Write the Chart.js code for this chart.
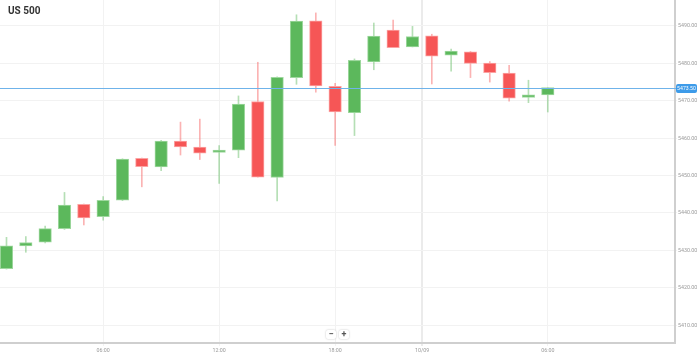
<!DOCTYPE html>
<html>
<head>
<meta charset="utf-8">
<script src="https://cdn.jsdelivr.net/npm/chart.js@4"></script>
<style>
  html, body { margin: 0; padding: 0; background: #fff; }
  #wrap { position: relative; width: 699px; height: 361px; overflow: hidden; }
  #title { position: absolute; left: 8px; top: 5px; font: bold 10px Roboto, sans-serif; color: #333; }
  .zbtn { position: absolute; top: 330px; width: 10px; height: 9px; background: #fff; border-radius: 2px;
          box-shadow: 0 0 2px rgba(0,0,0,0.25); font: bold 9px/9px Roboto, sans-serif; color: #555; text-align: center; }
</style>
</head>
<body>
<div id="wrap">
  <canvas id="chart" width="699" height="361"></canvas>
  <div id="title">US 500</div>
  <div class="zbtn" style="left:326px">−</div>
  <div class="zbtn" style="left:339px">+</div>
</div>
<script>
// hourly candles, 23:00 is the market break
const hours = ['01:00','02:00','03:00','04:00','05:00','06:00','07:00','08:00','09:00','10:00','11:00',
  '12:00','13:00','14:00','15:00','16:00','17:00','18:00','19:00','20:00','21:00','22:00',
  '00:00','01:00','02:00','03:00','04:00','05:00','06:00'];
const dayLabel = '10/09';
const labeledHours = ['06:00', '12:00', '18:00'];

const open  = [5425.1, 5431.2, 5432.2, 5435.8, 5442.3, 5439.0, 5443.4, 5454.6, 5452.3, 5459.2, 5457.6,
  5456.2, 5456.8, 5469.8, 5449.5, 5476.2, 5491.4, 5473.9, 5466.8, 5480.4, 5488.9, 5484.4,
  5487.4, 5482.2, 5483.1, 5480.1, 5477.4, 5470.9, 5471.6];
const high  = [5433.5, 5433.7, 5436.5, 5445.5, 5442.4, 5444.4, 5454.5, 5454.7, 5459.4, 5464.3, 5465.1,
  5458.0, 5471.3, 5480.3, 5476.4, 5493.0, 5493.5, 5474.7, 5481.2, 5490.8, 5491.6, 5489.9,
  5487.8, 5483.8, 5483.2, 5480.5, 5479.5, 5475.5, 5473.5];
const low   = [5425.0, 5429.5, 5432.0, 5435.6, 5436.8, 5438.1, 5443.3, 5447.0, 5451.3, 5455.5, 5454.3,
  5447.9, 5454.8, 5449.6, 5443.2, 5474.4, 5472.3, 5458.1, 5460.7, 5478.3, 5484.2, 5484.4,
  5474.5, 5477.9, 5476.2, 5475.0, 5469.9, 5469.5, 5467.0];
const close = [5431.2, 5432.1, 5435.8, 5442.1, 5438.7, 5443.4, 5454.4, 5452.4, 5459.2, 5457.7, 5456.0,
  5456.8, 5469.1, 5449.6, 5476.3, 5491.3, 5474.0, 5467.0, 5480.8, 5487.3, 5484.2, 5487.2,
  5481.9, 5483.3, 5480.0, 5477.5, 5470.7, 5471.6, 5473.5];

const priceTicks = [5410, 5420, 5430, 5440, 5450, 5460, 5470, 5480, 5490];

const UP = '#5cb85c', UP_EDGE = '#9fd89f', UP_WICK = 'rgba(92,184,92,0.45)';
const DN = '#f65656', DN_EDGE = '#fba3a3', DN_WICK = 'rgba(246,86,86,0.45)';

const isUp = close.map((c, i) => c >= open[i]);

// time axis ticks derived from the hour list
const timeTicks = [];
hours.forEach((h, i) => {
  if (h === '00:00') timeTicks.push({ value: i - 0.5, label: dayLabel, day: true });
  if (labeledHours.includes(h)) timeTicks.push({ value: i, label: h, day: false });
});

const lastPrice = close[close.length - 1];

const priceLine = {
  id: 'priceLine',
  afterDatasetsDraw(chart) {
    const ctx = chart.ctx, area = chart.chartArea;
    const y = Math.round(chart.scales.y.getPixelForValue(lastPrice));
    ctx.save();
    ctx.fillStyle = '#6fb3ea';
    ctx.fillRect(area.left, y, area.right - area.left + 2, 1);
    ctx.fillStyle = '#3d9be9';
    ctx.beginPath();
    ctx.roundRect(area.right + 1, y - 4, 21, 9, 2);
    ctx.fill();
    ctx.fillStyle = '#fff';
    ctx.font = '5.2px Roboto, sans-serif';
    ctx.textBaseline = 'middle';
    ctx.textAlign = 'center';
    ctx.fillText(lastPrice.toFixed(2), area.right + 11.5, y + 0.8);
    ctx.restore();
  }
};

new Chart(document.getElementById('chart'), {
  type: 'bar',
  data: {
    datasets: [
      {
        label: 'body',
        data: hours.map((h, i) => ({ x: i, y: [open[i], close[i]] })),
        backgroundColor: isUp.map(u => u ? UP : DN),
        borderColor: isUp.map(u => u ? UP_EDGE : DN_EDGE),
        borderWidth: 1,
        borderSkipped: false,
        barThickness: 12.5,
        grouped: false,
        order: 1
      },
      {
        label: 'wick',
        data: hours.map((h, i) => ({ x: i, y: [low[i], high[i]] })),
        backgroundColor: isUp.map(u => u ? UP_WICK : DN_WICK),
        borderWidth: 0,
        barThickness: 1,
        grouped: false,
        order: 2
      }
    ]
  },
  options: {
    responsive: false,
    animation: false,
    layout: { padding: 0 },
    plugins: { legend: { display: false }, tooltip: { enabled: false } },
    scales: {
      x: {
        type: 'linear',
        offset: false,
        min: -0.336,
        max: 34.58,
        afterBuildTicks(scale) { scale.ticks = timeTicks.map(t => ({ value: t.value })); },
        afterFit(scale) {
          scale.height = 18;
          scale.paddingLeft = 0; scale.paddingRight = 0;
        },
        ticks: {
          autoSkip: false,
          maxRotation: 0,
          padding: 1,
          color: '#999',
          font: { family: 'Roboto', size: 5.3 },
          callback: (v, i) => timeTicks[i].label
        },
        grid: {
          offset: false,
          color: c => (timeTicks[c.index] && timeTicks[c.index].day) ? '#ebebeb' : '#f2f2f2',
          lineWidth: c => (timeTicks[c.index] && timeTicks[c.index].day) ? 2 : 1,
          tickLength: 3
        },
        border: { color: '#cfcfcf', width: 2 }
      },
      y: {
        position: 'right',
        min: 5405.24,
        max: 5496.95,
        afterBuildTicks(scale) { scale.ticks = priceTicks.map(v => ({ value: v })); },
        afterFit(scale) {
          scale.width = 24;
          scale.paddingTop = 0; scale.paddingBottom = 0;
        },
        ticks: {
          padding: 1,
          color: '#999',
          font: { family: 'Roboto', size: 5.3 },
          callback: v => v.toFixed(2)
        },
        grid: { color: '#f2f2f2', tickLength: 2 },
        border: { color: '#cfcfcf', width: 2 }
      }
    }
  },
  plugins: [priceLine]
});
</script>
</body>
</html>
